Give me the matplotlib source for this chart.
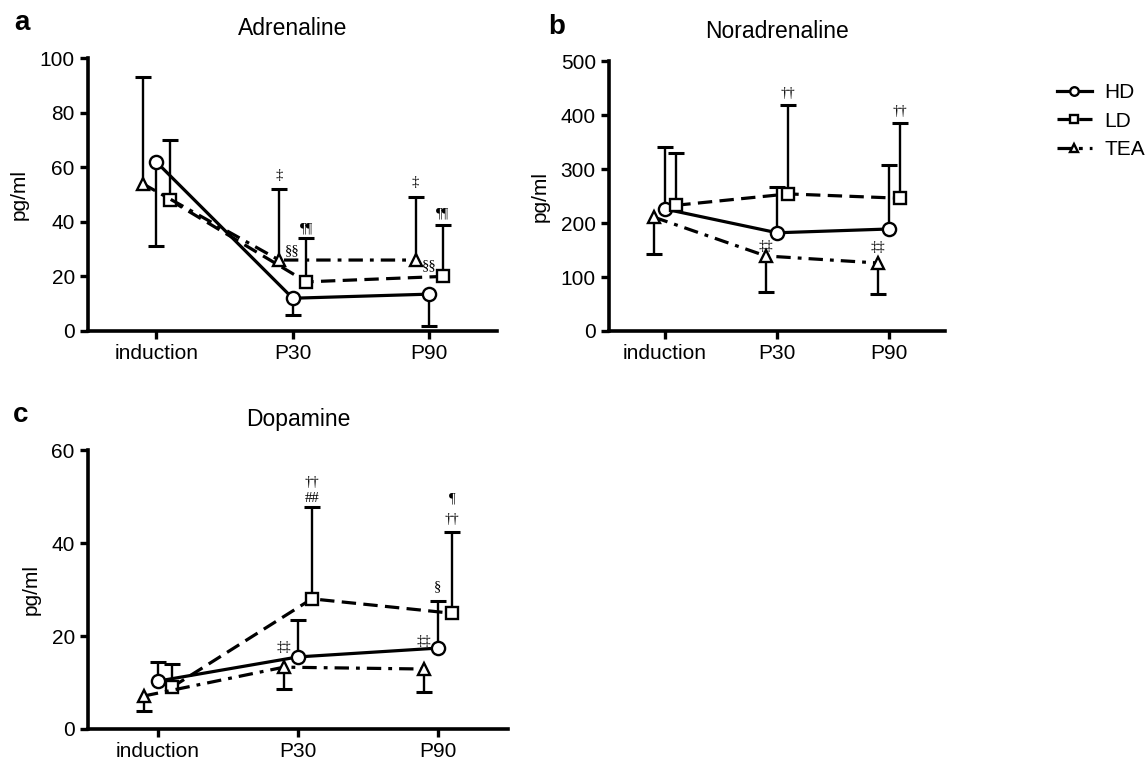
import matplotlib
matplotlib.use('Agg')
import matplotlib.pyplot as plt
import numpy as np

plt.rcParams['font.family'] = ['Liberation Sans', 'DejaVu Sans']

times = ['induction', 'P30', 'P90']
groups = ['HD', 'LD', 'TEA']

# Adrenaline (pg/ml)
adr_hd = [62, 12, 13.5]
adr_ld = [48, 18, 20]
adr_tea = [54, 26, 26]
adr_hd_sd = [31, 6, 11.5]      # drawn downwards
adr_ld_sd = [22, 16, 19]       # upwards
adr_tea_sd = [39, 26, 23]      # upwards

# Noradrenaline (pg/ml)
nor_hd = [226, 182, 189]
nor_ld = [233, 254, 246]
nor_tea = [211, 139, 126]
nor_hd_sd = [115, 85, 118]     # upwards
nor_ld_sd = [96, 164, 139]     # upwards
nor_tea_sd = [69, 66, 58]      # downwards

# Dopamine (pg/ml)
dop_hd = [10.3, 15.5, 17.4]
dop_ld = [9.0, 28.0, 24.9]
dop_tea = [7.1, 13.3, 12.9]
dop_hd_sd = [4.1, 7.9, 10.1]   # upwards
dop_ld_sd = [5.0, 19.7, 17.5]  # upwards
dop_tea_sd = [3.2, 4.7, 4.9]   # downwards

# significance marks: (text, group index, time index, y)
adr_marks = [('\u2021', 2, 1, 57), ('\u00a7\u00a7', 0, 1, 29.5), ('\u00b6\u00b6', 1, 1, 37.5),
             ('\u2021', 2, 2, 54.5), ('\u00a7\u00a7', 0, 2, 24), ('\u00b6\u00b6', 1, 2, 43)]
nor_marks = [('\u2020\u2020', 1, 1, 440), ('\u2020\u2020', 1, 2, 407),
             ('\u2021\u2021', 2, 1, 157), ('\u2021\u2021', 2, 2, 155)]
dop_marks = [('\u2020\u2020', 1, 1, 53), ('##', 1, 1, 49.5),
             ('\u00b6', 1, 2, 49.5), ('\u2020\u2020', 1, 2, 45),
             ('\u00a7', 0, 2, 30.5), ('\u2021\u2021', 2, 1, 17.5), ('\u2021\u2021', 2, 2, 18.8)]

offsets = [0.0, 0.1, -0.1]
styles = [dict(ls='-', marker='o', ms=9.5),
          dict(ls=(0, (4.5, 2.3)), marker='s', ms=8.5),
          dict(ls=(0, (4.5, 2.2, 1.2, 2.2)), marker='^', ms=9)]


def draw_panel(ax, means, sds, up, marks, title, letter, ymax, ystep):
    x = np.arange(len(times))
    handles = []
    for g in range(3):
        xs = x + offsets[g]
        m = np.array(means[g], dtype=float)
        s = np.array(sds[g], dtype=float)
        ends = m + s if up[g] else m - s
        # one-sided error bars with a cap only at the far end
        ax.vlines(xs, m, ends, color='black', lw=1.7, zorder=2)
        ax.plot(xs, ends, ls='none', marker='_', ms=11, mew=2.2, color='black', zorder=2)
        h, = ax.plot(xs, m, color='black', lw=2.3, mfc='white', mec='black', mew=1.7,
                     zorder=3, label=groups[g], **styles[g])
        handles.append(h)
    for txt, g, t, yy in marks:
        ax.text(t + offsets[g], yy, txt, ha='center', va='center', fontsize=10.5,
                family=['Liberation Serif', 'DejaVu Serif'], zorder=4)
    ax.set_xlim(-0.5, 2.5)
    ax.set_ylim(0, ymax)
    ax.set_yticks(np.arange(0, ymax + 1, ystep))
    ax.set_xticks(x)
    ax.set_xticklabels(times)
    ax.spines['top'].set_visible(False)
    ax.spines['right'].set_visible(False)
    ax.spines['left'].set_linewidth(2.6)
    ax.spines['bottom'].set_linewidth(2.6)
    ax.tick_params(axis='both', direction='out', length=6, width=2.4, labelsize=15)
    ax.set_ylabel('pg/ml', fontsize=15, labelpad=8)
    ax.set_title(title, fontsize=16.5, pad=17)
    ax.text(-0.18, 1.08, letter, transform=ax.transAxes, fontsize=20, fontweight='bold',
            ha='left', va='bottom')
    return handles


fig = plt.figure(figsize=(11.47, 7.6), dpi=100)
ax_a = fig.add_axes([0.0767, 0.5645, 0.357, 0.359])
ax_b = fig.add_axes([0.531, 0.5645, 0.293, 0.355])
ax_c = fig.add_axes([0.0767, 0.0408, 0.366, 0.367])

draw_panel(ax_a, [adr_hd, adr_ld, adr_tea], [adr_hd_sd, adr_ld_sd, adr_tea_sd],
           [False, True, True], adr_marks, 'Adrenaline', 'a', 100, 20)
hs = draw_panel(ax_b, [nor_hd, nor_ld, nor_tea], [nor_hd_sd, nor_ld_sd, nor_tea_sd],
                [True, True, False], nor_marks, 'Noradrenaline', 'b', 500, 100)
draw_panel(ax_c, [dop_hd, dop_ld, dop_tea], [dop_hd_sd, dop_ld_sd, dop_tea_sd],
           [True, True, False], dop_marks, 'Dopamine', 'c', 60, 20)

fig.legend(handles=hs, loc='upper left', bbox_to_anchor=(0.905, 0.915), frameon=False,
           fontsize=15, handlelength=1.7, handletextpad=0.6, labelspacing=0.45,
           markerscale=0.65)

fig.savefig('out.png', dpi=100)
